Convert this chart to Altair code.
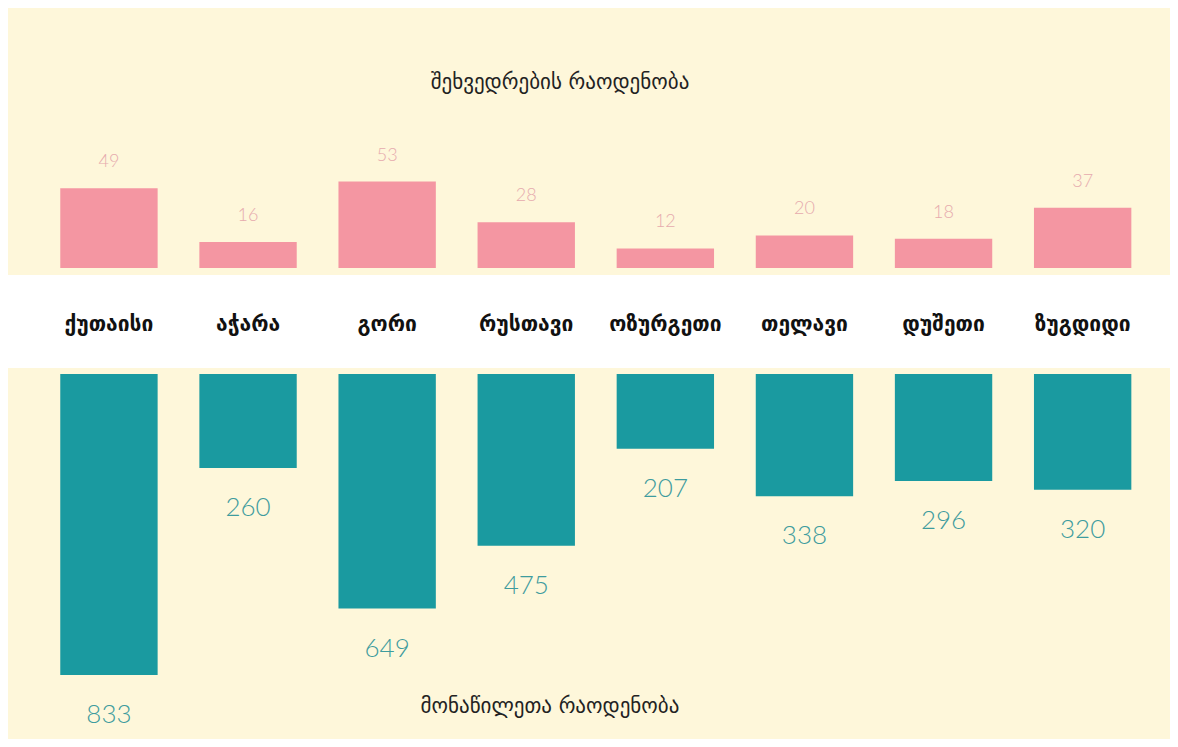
import altair as alt
import pandas as pd

cities = ["ქუთაისი", "აჭარა", "გორი", "რუსთავი", "ოზურგეთი", "თელავი", "დუშეთი", "ზუგდიდი"]
meetings = [49, 16, 53, 28, 12, 20, 18, 37]
participants = [833, 260, 649, 475, 207, 338, 296, 320]
title_top = "შეხვედრების რაოდენობა"
title_bottom = "მონაწილეთა რაოდენობა"

df = pd.DataFrame({"city": cities, "meetings": meetings, "participants": participants})

W, H = 1162, 731
CREAM = "#FEF7DA"
PINK = "#F3909F"
TEAL = "#1A9AA0"

xs = alt.X("city:N", sort=cities, axis=None,
           scale=alt.Scale(range=[31.4, 1144.2], paddingInner=0.3, paddingOuter=0.15))
y_pink = alt.Y("meetings:Q", axis=None,
               scale=alt.Scale(domain=[0, 60], range=[260, 162.2], nice=False, zero=True))
y_teal = alt.Y("participants:Q", axis=None,
               scale=alt.Scale(domain=[0, 900], range=[366, 691.2], nice=False, zero=True))

base = alt.Chart(df)

band = alt.Chart(pd.DataFrame({"a": [0]})).mark_rect(color="white").encode(
    x=alt.value(0), x2=alt.value(W), y=alt.value(267), y2=alt.value(360))

pink_bars = base.mark_bar(color=PINK, opacity=0.95).encode(x=xs, y=y_pink)
pink_text = base.mark_text(color="#E6ABAE", fontSize=18, font="Lato", fontWeight=300,
                           baseline="middle", dy=-26).encode(x=xs, y=y_pink, text="meetings:Q")

teal_bars = base.mark_bar(color=TEAL).encode(x=xs, y=y_teal)
teal_text = base.mark_text(color="#3E9C9E", fontSize=26, font="Lato", fontWeight=300,
                           baseline="middle", dy=40).encode(x=xs, y=y_teal, text="participants:Q")

cat_text = base.mark_text(color="#111111", fontSize=21, font="DejaVu Sans", fontWeight="bold",
                          baseline="middle").encode(x=xs, y=alt.value(317), text="city:N")

t1 = alt.Chart(pd.DataFrame({"t": [title_top]})).mark_text(
    color="#222222", fontSize=21, font="DejaVu Sans", baseline="middle").encode(
    x=alt.value(552), y=alt.value(75), text="t:N")
t2 = alt.Chart(pd.DataFrame({"t": [title_bottom]})).mark_text(
    color="#222222", fontSize=21, font="DejaVu Sans", baseline="middle").encode(
    x=alt.value(542), y=alt.value(699), text="t:N")

chart = alt.layer(band, pink_bars, pink_text, teal_bars, teal_text, cat_text, t1, t2).resolve_scale(
    y="independent"
).properties(
    width=W, height=H, background=CREAM, padding=0,
    autosize=alt.AutoSizeParams(type="none")
).configure_view(stroke=None, fill=CREAM)

chart.save("out.html", embed_options={"renderer": "svg", "actions": False})
